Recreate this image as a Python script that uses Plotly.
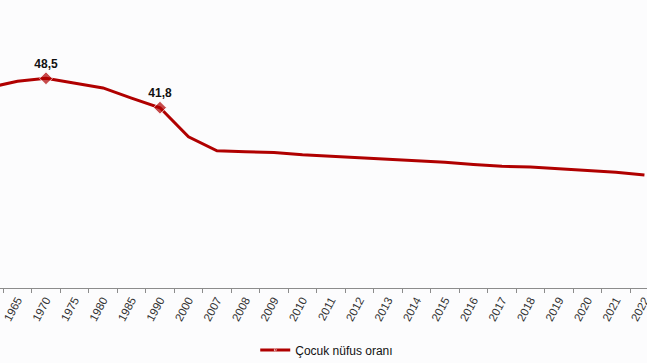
import plotly.graph_objects as go

years = ["1960", "1965", "1970", "1975", "1980", "1985", "1990", "2000", "2007", "2008",
         "2009", "2010", "2011", "2012", "2013", "2014", "2015", "2016", "2017", "2018",
         "2019", "2020", "2021", "2022"]
child_ratio = [46.4, 47.8, 48.5, 47.4, 46.3, 44.0, 41.8, 35.2, 32.0, 31.8,
               31.6, 31.1, 30.7, 30.4, 30.1, 29.8, 29.4, 28.9, 28.5, 28.3,
               27.9, 27.6, 27.1, 26.5]
labeled_years = ["1970", "1990"]
series_name = "Çocuk nüfus oranı"

def fmt(v):
    return f"{v:.1f}".replace(".", ",")

marker_sizes = [10 if y in labeled_years else 0 for y in years]
point_text = [f"<b>{fmt(v)}</b>" if y in labeled_years else "" for y, v in zip(years, child_ratio)]

fig = go.Figure()
fig.add_trace(go.Scatter(
    x=years, y=child_ratio, mode="lines+markers+text", name=series_name,
    line=dict(color="#B00000", width=3),
    marker=dict(symbol="diamond", size=marker_sizes, color="#B00000"),
    text=point_text, textposition="top center",
    textfont=dict(family="Arial, Liberation Sans", size=12, color="#111111"),
    cliponaxis=False,
    showlegend=True,
))

fig.update_layout(
    width=647, height=363,
    margin=dict(l=0, r=0, t=0, b=75, autoexpand=False),
    paper_bgcolor="#FCFCFD", plot_bgcolor="#FCFCFD",
    font=dict(family="Arial, Liberation Sans", size=11, color="#333333"),
    xaxis=dict(type="category", range=[0.386, 23.09], showgrid=False, automargin=False,
               showline=True, linecolor="#8C8C8C", linewidth=1,
               ticks="outside", tickson="boundaries", ticklen=4, tickcolor="#8C8C8C",
               tickangle=-62, tickfont=dict(size=11.5, color="#333333")),
    yaxis=dict(range=[0.8, 66.3], visible=False, showgrid=False, zeroline=False, automargin=False),
    legend=dict(orientation="h", x=0.505, xanchor="center", y=-0.215, yanchor="middle",
                font=dict(size=12, color="#111111"), bgcolor="rgba(0,0,0,0)"),
)

fig.write_html("out.html", config={"displayModeBar": False},
               post_script="document.body.style.margin='0';document.body.style.overflow='hidden';")
